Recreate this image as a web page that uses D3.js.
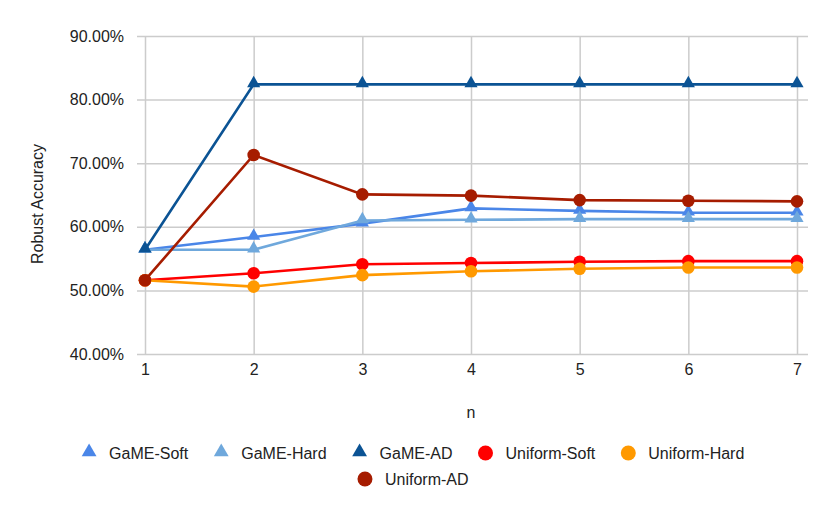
<!DOCTYPE html>
<html>
<head>
<meta charset="utf-8">
<script src="https://cdn.jsdelivr.net/npm/d3@7"></script>
<style>
  body { margin: 0; background: #fff; }
  text { font-family: "Liberation Sans", Arial, sans-serif; fill: #222; }
</style>
</head>
<body>
<script>
var w = 830;
var h = 514;

// data
var nValues = [1, 2, 3, 4, 5, 6, 7];
var yTicks = [0.4, 0.5, 0.6, 0.7, 0.8, 0.9];
var seriesNames = ["GaME-Soft", "GaME-Hard", "GaME-AD", "Uniform-Soft", "Uniform-Hard", "Uniform-AD"];
var gameSoft    = [0.564, 0.584, 0.605, 0.629, 0.625, 0.622, 0.622];
var gameHard    = [0.564, 0.564, 0.610, 0.611, 0.612, 0.612, 0.612];
var gameAD      = [0.564, 0.824, 0.824, 0.824, 0.824, 0.824, 0.824];
var uniformSoft = [0.516, 0.527, 0.541, 0.543, 0.545, 0.546, 0.546];
var uniformHard = [0.516, 0.506, 0.524, 0.530, 0.534, 0.536, 0.536];
var uniformAD   = [0.516, 0.713, 0.651, 0.649, 0.642, 0.641, 0.640];

var values = [gameSoft, gameHard, gameAD, uniformSoft, uniformHard, uniformAD];
var colors = ["#4a86e8", "#6fa8dc", "#0b5394", "#ff0000", "#ff9900", "#a61c00"];
var shapes = ["triangle", "triangle", "triangle", "circle", "circle", "circle"];

var series = seriesNames.map(function(name, i) {
  return { name: name, color: colors[i], shape: shapes[i],
           points: nValues.map(function(n, j) { return { n: n, v: values[i][j] }; }) };
});

var svg = d3.select("body").append("svg")
  .attr("width", w)
  .attr("height", h);

var x = d3.scaleLinear().domain([1, 7]).range([145, 797]);
var y = d3.scaleLinear().domain([0.4, 0.9]).range([354, 36]);

// grid
svg.append("g")
  .attr("transform", "translate(0,354)")
  .call(d3.axisBottom(x).tickValues(nValues).tickSize(-318).tickSizeOuter(0).tickPadding(10).tickFormat(d3.format("d")))
  .call(function(g) {
    g.select(".domain").remove();
    g.selectAll(".tick line").attr("stroke", "#cccccc").attr("stroke-width", 1.5);
    g.selectAll(".tick text").attr("font-size", "16px").attr("fill", "#222")
      .style("font-family", "'Liberation Sans', Arial, sans-serif");
  });

svg.append("g")
  .attr("transform", "translate(137,0)")
  .call(d3.axisLeft(y).tickValues(yTicks).tickSize(-671).tickSizeOuter(0).tickPadding(13).tickFormat(d3.format(".2%")))
  .call(function(g) {
    g.select(".domain").remove();
    g.selectAll(".tick line").attr("stroke", "#cccccc").attr("stroke-width", 1.5);
    g.selectAll(".tick text").attr("font-size", "16px").attr("fill", "#222")
      .style("font-family", "'Liberation Sans', Arial, sans-serif");
  });

// axis titles
svg.append("text")
  .attr("transform", "translate(43,204) rotate(-90)")
  .attr("text-anchor", "middle")
  .attr("font-size", "16px")
  .text("Robust Accuracy");

svg.append("text")
  .attr("x", 471)
  .attr("y", 418)
  .attr("text-anchor", "middle")
  .attr("font-size", "16px")
  .text("n");

// lines
var line = d3.line()
  .x(function(d) { return x(d.n); })
  .y(function(d) { return y(d.v); });

var triangle = d3.symbol().type(d3.symbolTriangle).size(75);

var sg = svg.selectAll(".series")
  .data(series)
  .enter()
  .append("g")
  .attr("class", "series");

sg.append("path")
  .attr("d", function(d) { return line(d.points); })
  .attr("fill", "none")
  .attr("stroke", function(d) { return d.color; })
  .attr("stroke-width", 2.6);

sg.each(function(s) {
  var g = d3.select(this);
  if (s.shape === "circle") {
    g.selectAll("circle")
      .data(s.points)
      .enter()
      .append("circle")
      .attr("cx", function(d) { return x(d.n); })
      .attr("cy", function(d) { return y(d.v); })
      .attr("r", 6.3)
      .attr("fill", s.color);
  } else {
    g.selectAll(".tri")
      .data(s.points)
      .enter()
      .append("path")
      .attr("class", "tri")
      .attr("transform", function(d) { return "translate(" + x(d.n) + "," + (y(d.v) - 1) + ")"; })
      .attr("d", triangle)
      .attr("fill", s.color);
  }
});

// legend
var legendRows = [series.slice(0, 5), series.slice(5)];
var legendY = [453, 479];
var legendTri = d3.symbol().type(d3.symbolTriangle).size(95);

legendRows.forEach(function(row, r) {
  var lg = svg.append("g");
  var cursor = 0;
  row.forEach(function(s, i) {
    var item = lg.append("g");
    if (s.shape === "circle") {
      item.append("circle").attr("cx", cursor).attr("cy", legendY[r]).attr("r", 7.5).attr("fill", s.color);
    } else {
      item.append("path")
        .attr("transform", "translate(" + cursor + "," + (legendY[r] - 1) + ")")
        .attr("d", legendTri)
        .attr("fill", s.color);
    }
    var t = item.append("text")
      .attr("x", cursor + 20)
      .attr("y", legendY[r] + 5.5)
      .attr("font-size", "16px")
      .text(s.name);
    cursor = cursor + 20 + t.node().getComputedTextLength() + 33;
  });
  var bb = lg.node().getBBox();
  lg.attr("transform", "translate(" + (413 - (bb.x + bb.width / 2)) + ",0)");
});
</script>
</body>
</html>
